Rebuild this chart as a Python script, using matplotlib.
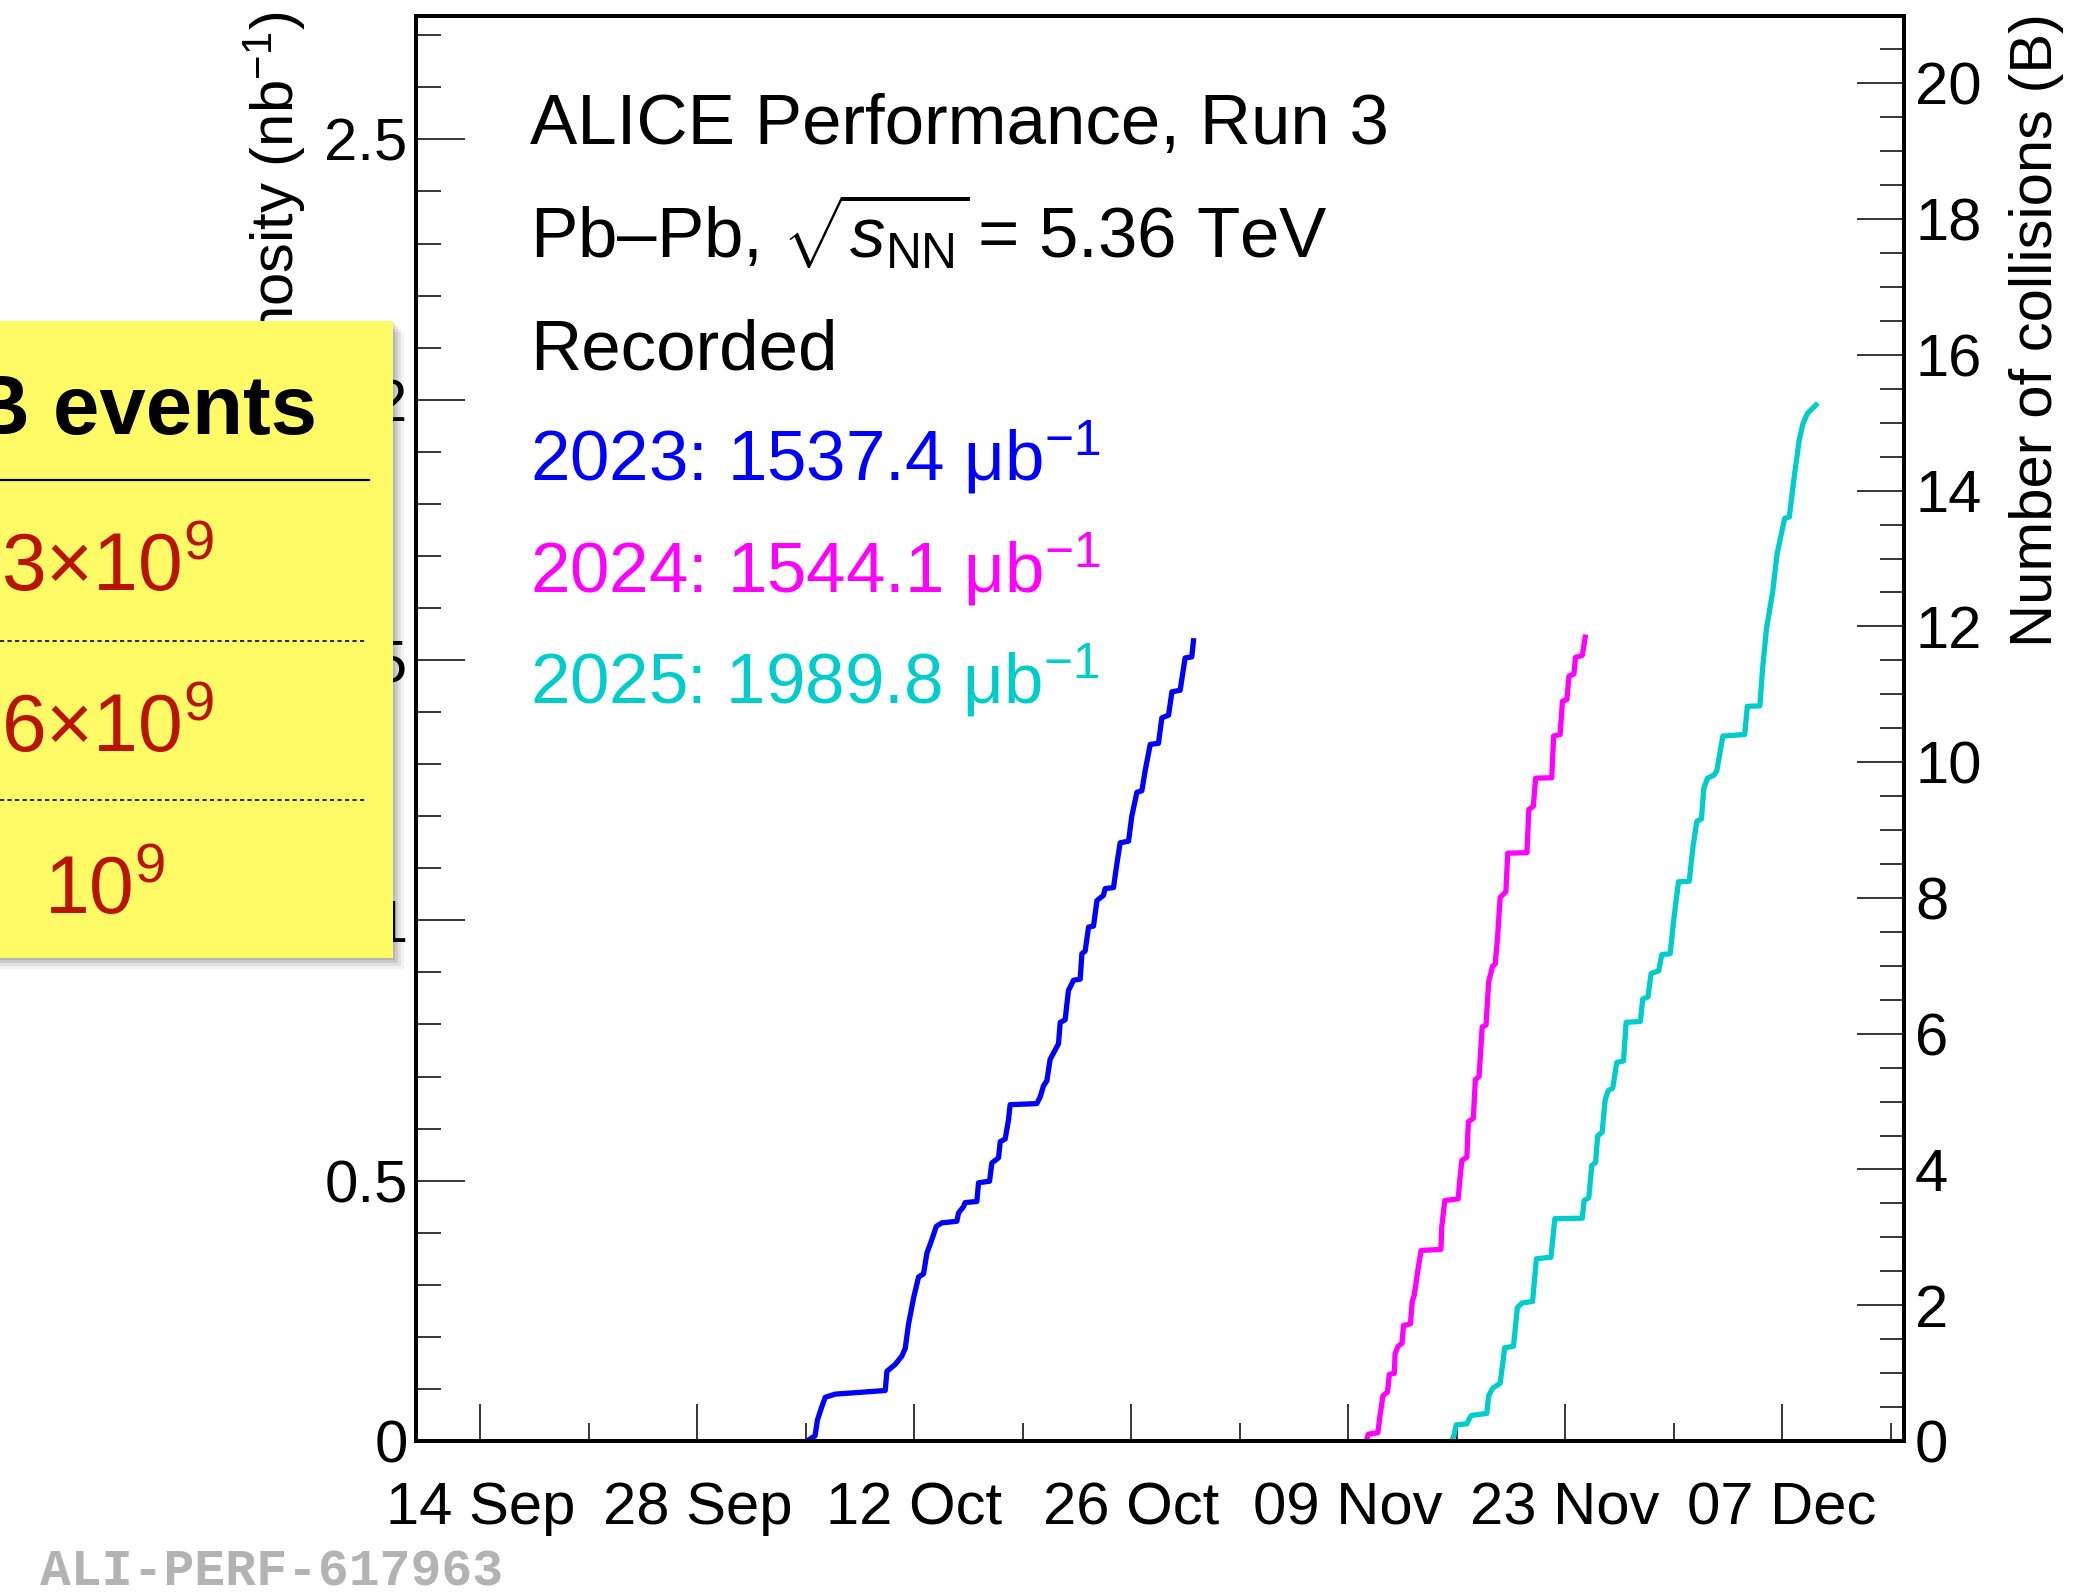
import matplotlib
matplotlib.use("Agg")
import matplotlib.pyplot as plt
from matplotlib.patches import Rectangle
from matplotlib.lines import Line2D
from matplotlib.ticker import MultipleLocator, FuncFormatter

plt.rcParams["font.family"] = ["Liberation Sans", "DejaVu Sans"]
plt.rcParams["mathtext.fontset"] = "custom"
plt.rcParams["mathtext.rm"] = "Liberation Sans"
plt.rcParams["mathtext.it"] = "Liberation Sans:italic"
plt.rcParams["mathtext.bf"] = "Liberation Sans:bold"

# x = days counted from 14 Sep, y = integrated luminosity in nb^-1
days_2023 = [21.08, 21.6, 21.76, 22.04, 22.26, 22.9, 26.13, 26.24, 26.77, 27.2, 27.42, 27.63,
             27.96, 28.28, 28.6, 28.82, 29.14, 29.42, 29.78, 30.75, 30.86, 31.18, 31.29, 32.04,
             32.15, 32.86, 33.01, 33.44, 33.55, 33.87, 34.08, 34.19, 35.91, 36.13, 36.34, 36.56,
             36.77, 37.31, 37.42, 37.74, 37.95, 38.28, 38.71, 38.82, 39.03, 39.25, 39.57, 39.79,
             40.21, 40.32, 40.86, 41.08, 41.29, 41.83, 42.04, 42.37, 42.69, 42.9, 43.23, 43.76,
             43.98, 44.41, 44.63, 45.16, 45.48, 45.91, 46.02]
lumi_2023 = [0.0, 0.010, 0.041, 0.066, 0.084, 0.090, 0.097, 0.134, 0.147, 0.163, 0.178, 0.224,
             0.275, 0.315, 0.321, 0.361, 0.387, 0.412, 0.419, 0.422, 0.438, 0.450, 0.458, 0.460,
             0.496, 0.499, 0.534, 0.544, 0.575, 0.580, 0.616, 0.646, 0.648, 0.661, 0.682, 0.692,
             0.733, 0.763, 0.804, 0.809, 0.865, 0.885, 0.887, 0.936, 0.941, 0.987, 0.989, 1.038,
             1.048, 1.061, 1.063, 1.109, 1.149, 1.152, 1.200, 1.246, 1.249, 1.287, 1.338, 1.340,
             1.389, 1.394, 1.439, 1.442, 1.504, 1.506, 1.537]

days_2024 = [57.18, 57.3, 57.92, 58.05, 58.25, 58.54, 58.66, 58.98, 59.03, 59.23, 59.48, 59.57,
             60.02, 60.14, 60.26, 60.51, 60.71, 61.99, 62.04, 62.24, 63.1, 63.22, 63.34, 63.66,
             63.76, 64.08, 64.21, 64.45, 64.65, 64.9, 65.07, 65.32, 65.49, 65.64, 65.81, 66.18,
             66.3, 67.54, 67.66, 67.95, 68.1, 69.14, 69.26, 69.68, 69.83, 70.12, 70.25, 70.57,
             70.67, 71.11, 71.3]
lumi_2024 = [0.0, 0.013, 0.016, 0.047, 0.087, 0.094, 0.128, 0.130, 0.168, 0.182, 0.188, 0.222,
             0.225, 0.269, 0.279, 0.330, 0.366, 0.368, 0.411, 0.462, 0.465, 0.505, 0.539, 0.545,
             0.613, 0.620, 0.694, 0.700, 0.795, 0.799, 0.882, 0.912, 0.916, 0.966, 1.044, 1.055,
             1.129, 1.130, 1.213, 1.219, 1.273, 1.274, 1.354, 1.357, 1.421, 1.424, 1.469, 1.473,
             1.505, 1.509, 1.544]

days_2025 = [62.68, 62.85, 62.97, 63.66, 63.84, 63.96, 64.95, 65.07, 65.32, 65.81, 65.94, 66.1,
             66.67, 66.92, 67.21, 67.9, 68.15, 69.09, 69.34, 71.11, 71.23, 71.53, 71.72, 71.97,
             72.1, 72.39, 72.59, 72.79, 73.08, 73.33, 73.77, 73.94, 74.86, 75.01, 75.35, 75.55,
             76.04, 76.24, 76.78, 77.03, 77.32, 78.01, 78.26, 78.5, 78.8, 78.95, 79.19, 79.61,
             79.79, 80.18, 81.59, 81.76, 82.57, 82.74, 82.99, 83.39, 83.68, 84.17, 84.47, 84.79,
             85.11, 85.35, 85.65, 86.19]
lumi_2025 = [0.0, 0.013, 0.031, 0.033, 0.044, 0.049, 0.053, 0.087, 0.101, 0.111, 0.141, 0.179,
             0.182, 0.256, 0.265, 0.268, 0.350, 0.353, 0.427, 0.428, 0.462, 0.467, 0.529, 0.535,
             0.586, 0.593, 0.656, 0.673, 0.678, 0.727, 0.730, 0.804, 0.806, 0.849, 0.853, 0.898,
             0.903, 0.934, 0.936, 1.006, 1.074, 1.075, 1.143, 1.190, 1.195, 1.253, 1.273, 1.279,
             1.287, 1.354, 1.357, 1.411, 1.412, 1.482, 1.559, 1.630, 1.704, 1.772, 1.775, 1.853,
             1.923, 1.954, 1.974, 1.990]

tick_days = [0, 14, 28, 42, 56, 70, 84]
tick_labels = ["14 Sep", "28 Sep", "12 Oct", "26 Oct", "09 Nov", "23 Nov", "07 Dec"]

years = ["2023", "2024", "2025"]
totals = ["1537.4", "1544.1", "1989.8"]  # ub^-1
colors = ["#0000ff", "#ff00ff", "#00cccc"]

sigma_pbpb = 7.67  # b -> collisions (B) per nb^-1
table_values = ["3×10$^9$", "6×10$^9$", "10$^9$"]

W, H = 2095, 1596
fx = lambda px: px / W
fy = lambda py: 1 - py / H

fig = plt.figure(figsize=(W / 100, H / 100), dpi=100)
ax = fig.add_axes([fx(416), fy(1441), fx(1904) - fx(416), fy(16) - fy(1441)])

for d, l, c in zip([days_2023, days_2024, days_2025], [lumi_2023, lumi_2024, lumi_2025], colors):
    ax.plot(d, l, color=c, lw=3.8)

ax.set_xlim(-4.15, 91.87)
ax.set_ylim(0, 2.737)
ax.set_xticks(tick_days)
ax.set_xticklabels(tick_labels)
ax.xaxis.set_minor_locator(MultipleLocator(7))
ax.yaxis.set_major_locator(MultipleLocator(0.5))
ax.yaxis.set_minor_locator(MultipleLocator(0.1))
ax.yaxis.set_major_formatter(FuncFormatter(lambda v, p: "%g" % v))
for s in ax.spines.values():
    s.set_linewidth(2.8)
ax.tick_params(axis="x", which="major", direction="in", length=27, width=1.1, labelsize=43, pad=29, top=False)
ax.tick_params(axis="x", which="minor", direction="in", length=13, width=1.1, top=False)
ax.tick_params(axis="y", which="major", direction="in", length=35, width=1.1, labelsize=43, pad=6, right=False)
ax.tick_params(axis="y", which="minor", direction="in", length=18, width=1.1, right=False)

ax2 = ax.twinx()
ax2.set_ylim(0, 2.737 * sigma_pbpb)
ax2.yaxis.set_major_locator(MultipleLocator(2))
ax2.yaxis.set_minor_locator(MultipleLocator(0.5))
ax2.tick_params(axis="y", which="major", direction="in", length=34, width=1.1, labelsize=43, pad=8)
ax2.tick_params(axis="y", which="minor", direction="in", length=17, width=1.1)
for s in ax2.spines.values():
    s.set_linewidth(2.8)

fig.text(fx(274), fy(12), "Integrated luminosity (nb$^{-1}$)", rotation=90, ha="center", va="top", fontsize=43)
fig.text(fx(2036), fy(13), "Number of collisions (B)", rotation=90, ha="center", va="top", fontsize=43)

# info block
fig.text(fx(530), fy(144), "ALICE Performance, Run 3", fontsize=51, va="baseline")
fig.text(fx(530), fy(258), r"Pb–Pb, $\sqrt{s_{\mathrm{NN}}}\!$ = 5.36 TeV", fontsize=51, va="baseline")
fig.text(fx(530), fy(370), "Recorded", fontsize=51, va="baseline")
for i, (yr, tot, c) in enumerate(zip(years, totals, colors)):
    fig.text(fx(530), fy(481 + 111.5 * i), f"{yr}: {tot} μb$^{{-1}}$", fontsize=51, va="baseline", color=c)

# yellow note pasted on the left
for k, a in [(11, 0.05), (8, 0.07), (5, 0.09), (2, 0.1)]:
    fig.add_artist(Rectangle((fx(0), fy(958 + k)), fx(393 + k), fy(321 + k) - fy(958 + k),
                             facecolor="black", alpha=a, edgecolor="none", zorder=9))
fig.add_artist(Rectangle((fx(0), fy(958)), fx(393), fy(321) - fy(958),
                         facecolor="#fffb66", edgecolor="none", zorder=10))
fig.text(fx(317), fy(434), "MB events", fontsize=60, fontweight="bold", ha="right", va="baseline", zorder=11)
fig.add_artist(Line2D([0, fx(369)], [fy(480)] * 2, color="black", lw=1.6, zorder=11))
for yy in [641, 800]:
    fig.add_artist(Line2D([0, fx(365)], [fy(yy)] * 2, color="black", lw=1.2, ls=(0, (2.5, 2)), zorder=11))
fig.text(fx(214), fy(590), table_values[0], fontsize=58, color="#b81400", ha="right", va="baseline", zorder=11)
fig.text(fx(214), fy(751), table_values[1], fontsize=58, color="#b81400", ha="right", va="baseline", zorder=11)
fig.text(fx(44), fy(913), table_values[2], fontsize=58, color="#b81400", ha="left", va="baseline", zorder=11)

fig.text(fx(40), fy(1586), "ALI-PERF-617963", fontsize=37, family="Liberation Mono", fontweight="bold",
         color="#b3b3b3", va="baseline")

fig.savefig("out.png", dpi=100)
